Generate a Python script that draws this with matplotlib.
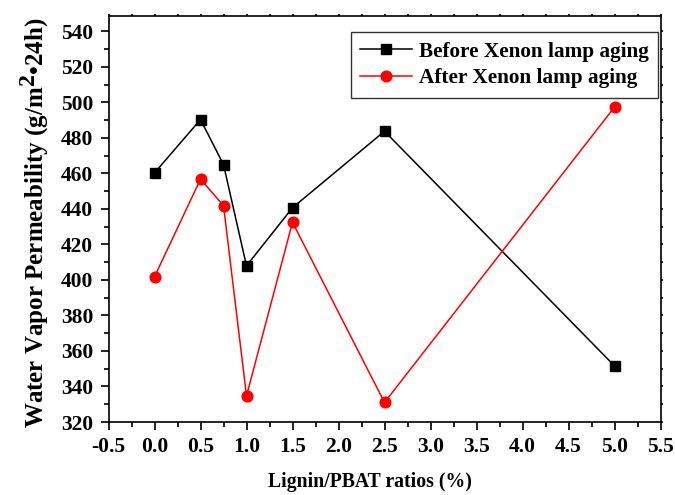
import matplotlib
matplotlib.use("Agg")
import matplotlib.pyplot as plt
import matplotlib._mathtext as _mt
from matplotlib.ticker import MultipleLocator, FormatStrFormatter

x = [0, 0.5, 0.75, 1.0, 1.5, 2.5, 5.0]
before = [460.3, 490.4, 465.0, 408.0, 440.7, 483.8, 351.6]
after = [401.8, 456.8, 441.9, 334.7, 432.5, 331.0, 497.4]

plt.rcParams['font.family'] = ['Liberation Serif', 'DejaVu Serif']
plt.rcParams['font.weight'] = 'bold'
plt.rcParams['mathtext.fontset'] = 'custom'
plt.rcParams['mathtext.rm'] = 'Liberation Serif:bold'
plt.rcParams['mathtext.bf'] = 'Liberation Serif:bold'
plt.rcParams['mathtext.it'] = 'Liberation Serif:bold'
try:
    _mt.SHRINK_FACTOR = 0.95
except Exception:
    pass

fig = plt.figure(figsize=(6.75, 4.95), dpi=100)
L, R, B, T = 108.5, 660.5, 422, 15.5
ax = fig.add_axes([L / 675, 1 - B / 495, (R - L) / 675, (B - T) / 495])

ax.plot(x, before, color='black', marker='s', markersize=6.8, linewidth=1.1,
        label='Before Xenon lamp aging')
ax.plot(x, after, color='red', marker='o', markersize=7.7, linewidth=1.1,
        label='After Xenon lamp aging')

ax.set_xlim(-0.5, 5.5)
ax.set_ylim(320, 549)
ax.xaxis.set_major_locator(MultipleLocator(0.5))
ax.xaxis.set_minor_locator(MultipleLocator(0.25))
ax.yaxis.set_major_locator(MultipleLocator(20))
ax.yaxis.set_minor_locator(MultipleLocator(10))
ax.xaxis.set_major_formatter(FormatStrFormatter('%.1f'))

ax.tick_params(which='both', direction='out', top=True, right=True, width=1.2)
ax.tick_params(which='major', length=6, labelsize=15.5, pad=5)
ax.tick_params(which='minor', length=3.5)
for tk in ax.xaxis.get_major_ticks() + ax.xaxis.get_minor_ticks():
    tk.tick2line.set_markersize(1.5)
for tk in ax.yaxis.get_major_ticks() + ax.yaxis.get_minor_ticks():
    tk.tick2line.set_markersize(1.5)
for lab in ax.get_xticklabels() + ax.get_yticklabels():
    lab.set_fontweight('bold')

for s in ax.spines.values():
    s.set_linewidth(1.2)

ax.set_xlabel('Lignin/PBAT ratios (%)', fontsize=14.2, fontweight='bold')
ax.xaxis.set_label_coords(0.474, -0.124)
ax.set_ylabel(r'Water Vapor Permeability (g/m$^{\mathbf{2}}$' + '\u202224h)', fontsize=18,
              fontweight='bold')
ax.yaxis.set_label_coords(-0.105, 0.49)

leg = ax.legend(loc='upper right', bbox_to_anchor=(658 / 675, 1 - 32 / 495),
                bbox_transform=fig.transFigure, fontsize=15.3,
                frameon=True, fancybox=False, edgecolor='black', borderpad=0.45,
                handlelength=2.45, handletextpad=0.3, labelspacing=0.3, borderaxespad=0)
leg.get_frame().set_linewidth(1.0)
for t in leg.get_texts():
    t.set_fontweight('bold')

fig.savefig('out.png', dpi=100)
